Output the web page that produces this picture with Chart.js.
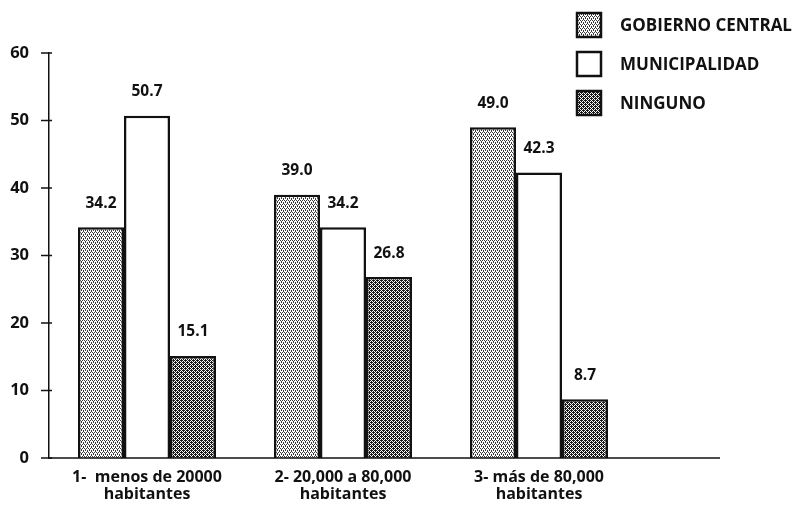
<!DOCTYPE html>
<html lang="es">
<head>
    <meta charset="UTF-8">
    <title>Gobierno central / municipalidad / ninguno</title>
    <script src="https://cdn.jsdelivr.net/npm/chart.js"></script>
    <style>
        html, body { margin: 0; padding: 0; background: #fff; }
        #wrap { width: 806px; height: 505px; }
    </style>
</head>
<body>
<div id="wrap"><canvas id="chart" width="806" height="505"></canvas></div>

<script>
// ---- datos ----
const categorias = [
    ['1-  menos de 20000', 'habitantes'],
    ['2- 20,000 a 80,000', 'habitantes'],
    ['3- más de 80,000', 'habitantes']
];
const series = ['GOBIERNO CENTRAL', 'MUNICIPALIDAD', 'NINGUNO'];
const gobiernoCentral = [34.2, 39.0, 49.0];
const municipalidad   = [50.7, 34.2, 42.3];
const ninguno         = [15.1, 26.8, 8.7];
const yTicks = [0, 10, 20, 30, 40, 50, 60];

const FONT = "'Open Sans', 'DejaVu Sans', sans-serif";
const INK = '#111';

// tramas punteadas (como en la impresión)
function trama(dots, fondo, tinta, size) {
    const c = document.createElement('canvas');
    c.width = size; c.height = size;
    const g = c.getContext('2d');
    g.fillStyle = fondo;
    g.fillRect(0, 0, size, size);
    g.fillStyle = tinta;
    dots.forEach(d => g.fillRect(d[0], d[1], 1, 1));
    return g.createPattern(c, 'repeat');
}
const ctx = document.getElementById('chart').getContext('2d');
const tramaClara  = trama([[0,0],[2,0],[1,1],[1,2],[3,2],[3,3]], '#ffffff', '#3a3a3a', 4);
const tramaOscura = trama([[0,0],[2,0],[1,1],[3,1],[0,2],[2,2],[1,3],[3,3],[1,0],[3,2]], '#ffffff', '#1a1a1a', 4);

const colores = [tramaClara, '#ffffff', tramaOscura];
const valores = [gobiernoCentral, municipalidad, ninguno];

// etiquetas de valor, leyenda y línea base
const extras = {
    id: 'extras',
    afterDatasetsDraw(chart) {
        const c = chart.ctx;
        const a = chart.chartArea;
        const y0 = chart.scales.y.getPixelForValue(0);
        c.save();
        // línea base
        c.strokeStyle = INK;
        c.lineWidth = 1.5;
        c.beginPath();
        c.moveTo(a.left, y0);
        c.lineTo(720, y0);
        c.stroke();
        // marcas del eje y que cruzan el eje
        yTicks.forEach(v => {
            const y = chart.scales.y.getPixelForValue(v);
            c.beginPath();
            c.moveTo(a.left - 8, y);
            c.lineTo(a.left + 3, y);
            c.stroke();
        });
        // valores sobre las barras
        c.fillStyle = INK;
        c.font = 'bold 15.5px ' + FONT;
        c.textAlign = 'center';
        c.textBaseline = 'middle';
        chart.data.datasets.forEach((ds, i) => {
            chart.getDatasetMeta(i).data.forEach((bar, j) => {
                c.fillText(ds.data[j].toFixed(1), bar.x, bar.y - 24);
            });
        });
        // leyenda
        c.textAlign = 'left';
        c.font = 'bold 17px ' + FONT;
        chart.data.datasets.forEach((ds, i) => {
            const y = 25 + i * 39;
            c.fillStyle = ds.backgroundColor;
            c.fillRect(577, y - 12, 24, 24);
            c.lineWidth = 2.5;
            c.strokeStyle = INK;
            c.strokeRect(577, y - 12, 24, 24);
            c.fillStyle = INK;
            c.fillText(ds.label, 620, y + 1);
        });
        c.restore();
    }
};

new Chart(ctx, {
    type: 'bar',
    data: {
        labels: categorias,
        datasets: series.map((s, i) => ({
            label: s,
            data: valores[i],
            backgroundColor: colores[i],
            borderColor: INK,
            borderWidth: 2.5,
            categoryPercentage: 0.704,
            barPercentage: 1
        }))
    },
    options: {
        responsive: false,
        animation: false,
        layout: { padding: { top: 53, right: 169, left: 0, bottom: 0 } },
        plugins: {
            legend: { display: false },
            tooltip: { enabled: false }
        },
        scales: {
            x: {
                grid: { display: false },
                border: { display: false },
                ticks: {
                    color: INK,
                    font: { family: FONT, size: 16, weight: 'bold', lineHeight: 1.05 },
                    padding: 3,
                    maxRotation: 0,
                    autoSkip: false
                },
                afterFit(scale) { scale.height = 47; }
            },
            y: {
                min: 0,
                max: 60,
                afterBuildTicks(scale) { scale.ticks = yTicks.map(v => ({ value: v })); },
                grid: { display: false },
                border: { display: true, color: INK, width: 1.5 },
                ticks: {
                    color: INK,
                    font: { family: FONT, size: 16.5, weight: 'bold' },
                    padding: 12
                },
                afterFit(scale) { scale.width = 49; }
            }
        }
    },
    plugins: [extras]
});
</script>
</body>
</html>
